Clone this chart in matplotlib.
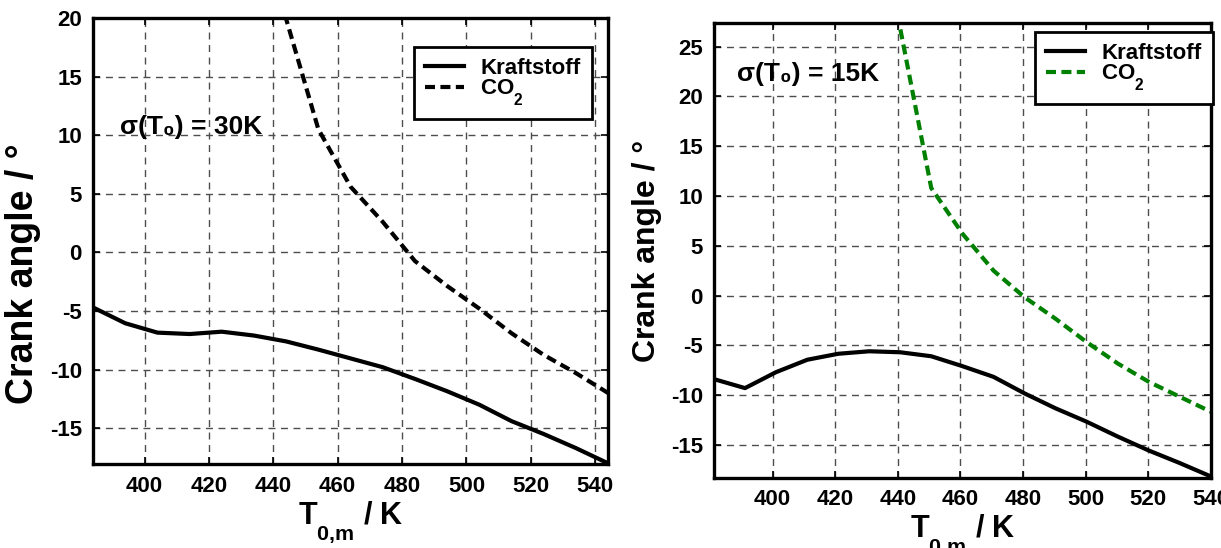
import numpy as np
import matplotlib
matplotlib.use("Agg")
import matplotlib.pyplot as plt

try:
    # push subscripts fully below the baseline
    import matplotlib._mathtext as _mt
    _mt.FontConstantsBase.sub1 = 0.95
    _mt.FontConstantsBase.sub2 = 0.95
except Exception:
    pass

plt.rcParams['font.family'] = ['Liberation Sans', 'DejaVu Sans']
plt.rcParams['font.weight'] = 'bold'
plt.rcParams['axes.unicode_minus'] = False
plt.rcParams['mathtext.fontset'] = 'custom'
plt.rcParams['mathtext.rm'] = 'Liberation Sans:bold'
plt.rcParams['mathtext.it'] = 'Liberation Sans:bold'
plt.rcParams['mathtext.bf'] = 'Liberation Sans:bold'
plt.rcParams['mathtext.default'] = 'rm'

# --- sigma(T0) = 30 K ---
t_left = [384, 394, 404, 414, 424, 434, 444, 454, 464, 474,
          484, 494, 504, 514, 524, 534, 544]
fuel_left = [-4.7, -6.05, -6.85, -6.97, -6.77, -7.1, -7.6, -8.3, -9.05, -9.8,
             -10.8, -11.85, -13.0, -14.4, -15.5, -16.7, -18.0]
co2_left = [np.nan, np.nan, np.nan, np.nan, np.nan, 45.0, 19.9, 10.5, 5.6, 2.6,
            -0.74, -2.87, -4.8, -6.9, -8.75, -10.3, -12.0]

# --- sigma(T0) = 15 K ---
t_right = [381.3, 391.2, 401.1, 411.1, 421.0, 430.9, 440.8, 450.7, 460.7, 470.6,
           480.5, 490.4, 500.3, 510.3, 520.2, 530.1, 540.0]
fuel_right = [-8.4, -9.3, -7.7, -6.45, -5.85, -5.6, -5.7, -6.1, -7.1, -8.17,
              -9.83, -11.33, -12.67, -14.17, -15.57, -16.83, -18.17]
co2_right = [np.nan, np.nan, np.nan, np.nan, np.nan, 45.0, 26.8, 10.8, 6.2, 2.5,
             -0.17, -2.33, -4.67, -6.83, -8.67, -10.17, -11.67]

x_ticks = [400, 420, 440, 460, 480, 500, 520, 540]
y_ticks_left = [-15, -10, -5, 0, 5, 10, 15, 20]
y_ticks_right = [-15, -10, -5, 0, 5, 10, 15, 20, 25]

fig = plt.figure(figsize=(12.21, 5.48), dpi=100)
ax1 = fig.add_axes([0.0762, 0.1524, 0.4218, 0.8149])
ax2 = fig.add_axes([0.5848, 0.1283, 0.4068, 0.8292])

DASH = (0, (2.4, 1.3))


def style(ax, xlim, ylim, yticks, ylabel_size):
    ax.set_xlim(*xlim)
    ax.set_ylim(*ylim)
    ax.set_xticks(x_ticks)
    ax.set_yticks(yticks)
    ax.tick_params(direction='in', length=5, width=1.2, top=True, right=True,
                   labelsize=16, pad=8)
    for lab in ax.get_xticklabels() + ax.get_yticklabels():
        lab.set_fontweight('bold')
    for sp in ax.spines.values():
        sp.set_linewidth(2.4)
    ax.grid(True, color='0.3', linewidth=1.0, linestyle=(0, (5, 4)))
    ax.set_axisbelow(True)
    ax.set_ylabel('Crank angle / °', fontsize=ylabel_size, fontweight='bold', labelpad=6)
    ax.set_xlabel('T$_{0{,}m}$ / K', fontsize=22, fontweight='bold', labelpad=2)


def add_legend(ax, anchor):
    leg = ax.legend(loc='upper right', bbox_to_anchor=anchor, borderaxespad=0,
                    fancybox=False, handlelength=1.75, handletextpad=0.75,
                    labelspacing=-0.05, borderpad=0.5,
                    prop={'weight': 'bold', 'size': 16})
    leg.get_frame().set_edgecolor('black')
    leg.get_frame().set_linewidth(2.0)
    leg.get_frame().set_alpha(1.0)
    return leg


# left panel
ax1.plot(t_left, fuel_left, color='black', lw=3.0, label='Kraftstoff')
ax1.plot(t_left, co2_left, color='black', lw=3.0, linestyle=DASH, label='CO$_2$')
style(ax1, (384, 544), (-18.1, 20), y_ticks_left, 27)
ax1.yaxis.label.set_y(0.4266)
add_legend(ax1, (0.968, 0.9355))
ax1.text(392.5, 10.7, 'σ(T₀) = 30K', fontsize=19, fontweight='bold',
         ha='left', va='center')

# right panel
ax2.plot(t_right, fuel_right, color='black', lw=3.0, label='Kraftstoff')
ax2.plot(t_right, co2_right, color='#008000', lw=3.0, linestyle=DASH, label='CO$_2$')
style(ax2, (381.3, 540), (-18.3, 27.35), y_ticks_right, 23)
add_legend(ax2, (1.004, 0.9817))
ax2.text(388.6, 22.3, 'σ(T₀) = 15K', fontsize=19, fontweight='bold',
         ha='left', va='center')

fig.savefig('out.png', dpi=100)
